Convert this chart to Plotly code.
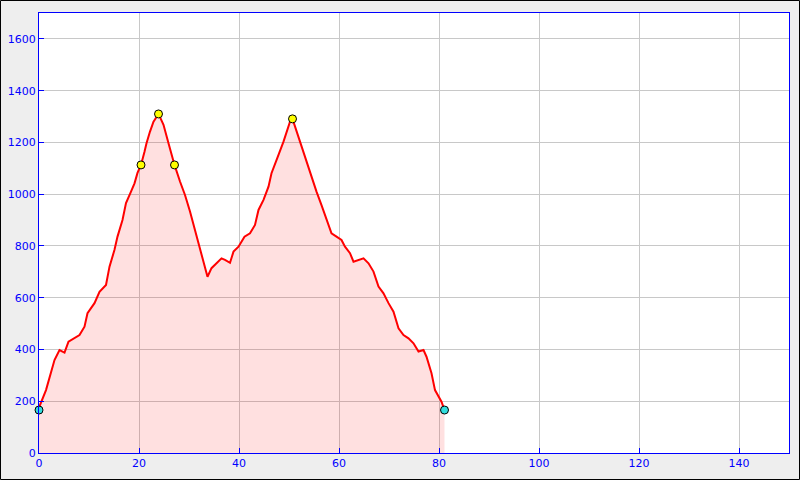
import plotly.graph_objects as go

# Elevation profile (distance km, elevation m)
dist_km = [0.0, 0.2, 1.4, 2.4, 3.1, 4.1, 5.1, 5.9, 8.1, 9.1, 9.7, 11.1, 12.1, 13.4, 14.1,
           15.1, 15.7, 16.7, 17.4, 18.4, 19.1, 19.7, 20.4, 21.1, 21.5, 22.2, 22.9, 23.9,
           24.9, 25.9, 27.1, 28.2, 29.2, 30.2, 31.2, 32.2, 33.0, 33.7, 34.5, 35.5, 36.5,
           37.2, 38.2, 38.9, 39.9, 41.1, 42.2, 43.2, 43.9, 44.9, 45.9, 46.5, 47.2, 47.9,
           48.9, 49.5, 50.2, 50.7, 51.2, 52.2, 52.9, 53.9, 54.5, 55.5, 56.5, 57.5, 58.5,
           59.5, 60.5, 61.2, 62.2, 62.9, 63.9, 64.9, 65.9, 66.9, 67.9, 68.9, 69.9, 70.9,
           71.9, 72.9, 73.9, 74.9, 75.9, 76.9, 77.5, 78.5, 79.2, 79.9, 80.5, 81.1]
elev_m = [166, 185, 243, 309, 359, 398, 388, 430, 456, 488, 540, 579, 623, 649, 720,
          785, 836, 900, 966, 1010, 1042, 1082, 1113, 1164, 1197, 1242, 1280, 1310,
          1268, 1197, 1113, 1049, 997, 933, 862, 785, 727, 681, 714, 733, 752,
          746, 735, 778, 797, 836, 849, 881, 939, 978, 1029, 1081, 1113, 1152,
          1203, 1242, 1280, 1291, 1261, 1203, 1158, 1107, 1068, 1010, 958, 900, 849,
          836, 823, 797, 772, 739, 746, 752, 733, 701, 643, 617, 579, 546,
          482, 456, 443, 424, 392, 398, 372, 308, 243, 218, 198, 166]

# Highlighted points
peak_km = [20.4, 23.9, 27.1, 50.7]
peak_m = [1113, 1310, 1113, 1291]
end_km = [0.0, 81.1]
end_m = [166, 166]

x_ticks = [0, 20, 40, 60, 80, 100, 120, 140]
y_ticks = [0, 200, 400, 600, 800, 1000, 1200, 1400, 1600]

fig = go.Figure()
fig.add_trace(go.Scatter(x=dist_km, y=elev_m, mode="lines",
                         line=dict(color="#ff0000", width=2),
                         fill="tozeroy", fillcolor="rgba(255,0,0,0.12)",
                         hoverinfo="x+y"))
fig.add_trace(go.Scatter(x=peak_km, y=peak_m, mode="markers",
                         marker=dict(color="#ffff00", size=8, line=dict(color="black", width=1))))
fig.add_trace(go.Scatter(x=end_km, y=end_m, mode="markers",
                         marker=dict(color="#33dddd", size=8, line=dict(color="black", width=1)),
                         cliponaxis=False))

axis_common = dict(showline=True, linecolor="#0000ff", linewidth=1, mirror=True,
                   showgrid=True, gridcolor="#c8c8c8", gridwidth=1,
                   ticks="inside", ticklen=5, tickcolor="#0000ff",
                   tickfont=dict(family="DejaVu Sans", size=11, color="#0000ff"),
                   zeroline=False, fixedrange=True, automargin=False)

fig.update_layout(
    width=800, height=480,
    margin=dict(l=39, r=11, t=13, b=27, autoexpand=False),
    paper_bgcolor="#eeeeee", plot_bgcolor="#ffffff",
    showlegend=False,
    xaxis=dict(range=[0, 150], tickvals=x_ticks, **axis_common),
    yaxis=dict(range=[0, 1700], tickvals=y_ticks, **axis_common),
    shapes=[dict(type="rect", xref="paper", yref="paper",
                 x0=-38.5 / 750, x1=1 + 10.5 / 750, y0=-26.5 / 440, y1=1 + 12.5 / 440,
                 line=dict(color="black", width=1), fillcolor="rgba(0,0,0,0)", layer="below")],
)

fig.write_html("out.html", config={"displayModeBar": False},
               post_script="document.body.style.margin='0';document.body.style.overflow='hidden';")
